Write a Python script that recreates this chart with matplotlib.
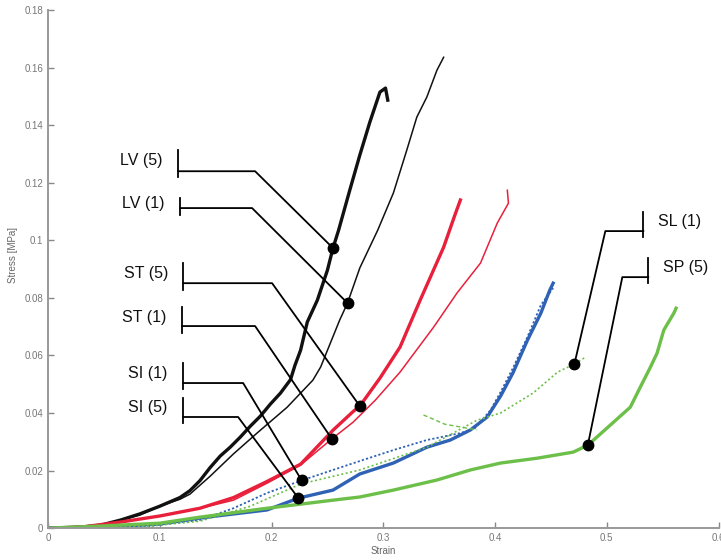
import numpy as np
import matplotlib.pyplot as plt

plt.rcParams['font.family'] = ['Liberation Sans', 'DejaVu Sans']

# stress-strain curves (strain, stress in MPa)
lv5_x = [0, 0.029, 0.047, 0.065, 0.082, 0.100, 0.118, 0.127, 0.136, 0.145, 0.154, 0.163,
         0.172, 0.181, 0.190, 0.199, 0.208, 0.217, 0.221, 0.226, 0.232, 0.241, 0.250,
         0.255, 0.260, 0.270, 0.279, 0.288, 0.297, 0.302, 0.304]
lv5_y = [0, 0.0003, 0.0010, 0.0028, 0.0049, 0.0076, 0.0106, 0.0130, 0.0165, 0.0210, 0.0250,
         0.0281, 0.0316, 0.0354, 0.0389, 0.0431, 0.0469, 0.0516, 0.0566, 0.0618, 0.0716,
         0.0792, 0.0896, 0.0973, 0.1035, 0.1174, 0.1296, 0.1411, 0.1515, 0.1529, 0.1487]

lv1_x = [0, 0.047, 0.082, 0.100, 0.118, 0.127, 0.145, 0.166, 0.187, 0.214, 0.237, 0.244,
         0.261, 0.268, 0.279, 0.295, 0.309, 0.321, 0.330, 0.339, 0.348, 0.354]
lv1_y = [0, 0.0010, 0.0045, 0.0076, 0.0100, 0.0118, 0.0180, 0.0258, 0.0330, 0.0420, 0.0514,
         0.0560, 0.0723, 0.0782, 0.0904, 0.1035, 0.1164, 0.1313, 0.1428, 0.1498, 0.1591, 0.1636]

st5_x = [0, 0.029, 0.065, 0.100, 0.136, 0.166, 0.196, 0.226, 0.255, 0.273, 0.279, 0.297,
         0.315, 0.333, 0.354, 0.364, 0.369]
st5_y = [0, 0.0003, 0.0021, 0.0042, 0.0069, 0.0106, 0.0162, 0.0222, 0.0340, 0.0405, 0.0424,
         0.0521, 0.0629, 0.0792, 0.0976, 0.1087, 0.1140]

st1_x = [0, 0.029, 0.065, 0.100, 0.136, 0.166, 0.196, 0.226, 0.241, 0.255, 0.273, 0.293,
         0.315, 0.345, 0.366, 0.387, 0.402, 0.412, 0.411]
st1_y = [0, 0.0003, 0.0021, 0.0042, 0.0069, 0.0097, 0.0156, 0.0219, 0.0268, 0.0313, 0.0368,
         0.0445, 0.0542, 0.0698, 0.0817, 0.0921, 0.1060, 0.1129, 0.1174]

si5_x = [0, 0.047, 0.100, 0.136, 0.196, 0.224, 0.255, 0.279, 0.309, 0.339, 0.360, 0.378,
         0.393, 0.405, 0.416, 0.429, 0.441, 0.449, 0.452]
si5_y = [0, 0.0003, 0.0014, 0.0035, 0.0063, 0.0104, 0.0132, 0.0188, 0.0226, 0.0281, 0.0306,
         0.0341, 0.0386, 0.0459, 0.0539, 0.0653, 0.0747, 0.0827, 0.0851]

si1_x = [0, 0.091, 0.136, 0.166, 0.196, 0.228, 0.255, 0.279, 0.309, 0.339, 0.369, 0.382,
         0.396, 0.405, 0.416, 0.429, 0.441, 0.452]
si1_y = [0, 0.0007, 0.0028, 0.0069, 0.0122, 0.0167, 0.0202, 0.0233, 0.0271, 0.0306, 0.0330,
         0.0347, 0.0410, 0.0473, 0.0556, 0.0664, 0.0775, 0.0834]

sl1_x = [0, 0.091, 0.136, 0.181, 0.226, 0.279, 0.339, 0.384, 0.405, 0.434, 0.456, 0.471, 0.481]
sl1_y = [0, 0.0007, 0.0024, 0.0076, 0.0153, 0.0202, 0.0281, 0.0375, 0.0400, 0.0469, 0.0542,
         0.0570, 0.0594]
sl1_tail_x = [0.336, 0.355, 0.384]
sl1_tail_y = [0.0393, 0.0361, 0.0341]

sp5_x = [0, 0.047, 0.100, 0.136, 0.196, 0.255, 0.279, 0.309, 0.348, 0.378, 0.405, 0.438,
         0.470, 0.483, 0.500, 0.521, 0.530, 0.539, 0.545, 0.551, 0.560, 0.562]
sp5_y = [0, 0.0007, 0.0017, 0.0038, 0.0069, 0.0097, 0.0108, 0.0132, 0.0167, 0.0202, 0.0226,
         0.0243, 0.0264, 0.0288, 0.0347, 0.0420, 0.0490, 0.0559, 0.0608, 0.0688, 0.0747, 0.0764]

# callouts: label, strain of the dot on its curve
labels = ['LV (5)', 'LV (1)', 'ST (5)', 'ST (1)', 'SI (1)', 'SI (5)', 'SL (1)', 'SP (5)']
dot_strain = [0.255, 0.268, 0.279, 0.254, 0.227, 0.224, 0.471, 0.483]

fig = plt.figure(figsize=(7.21, 5.6), dpi=100)
ax = fig.add_axes([0.0666, 0.057, 0.93, 0.925])

black, red, blue, green = '#111111', '#e8203c', '#2f62b4', '#6cbf48'

ax.plot(lv5_x, lv5_y, color=black, lw=2.4)
ax.plot(lv1_x, lv1_y, color=black, lw=1.1)
ax.plot(st5_x, st5_y, color=red, lw=2.4)
ax.plot(st1_x, st1_y, color=red, lw=1.1)
ax.plot(si5_x, si5_y, color=blue, lw=2.4)
ax.plot(si1_x, si1_y, color=blue, lw=1.3, ls=(0, (1.2, 1.2)))
ax.plot(sl1_x, sl1_y, color=green, lw=1.2, ls=(0, (1.2, 1.5)))
ax.plot(sl1_tail_x, sl1_tail_y, color=green, lw=1.0, ls=(0, (3, 2)))
ax.plot(sp5_x, sp5_y, color=green, lw=2.4)

curves = {
    'LV (5)': (lv5_x, lv5_y), 'LV (1)': (lv1_x, lv1_y),
    'ST (5)': (st5_x, st5_y), 'ST (1)': (st1_x, st1_y),
    'SI (1)': (si1_x, si1_y), 'SI (5)': (si5_x, si5_y),
    'SL (1)': (sl1_x, sl1_y), 'SP (5)': (sp5_x, sp5_y),
}

# bracket layout in data units: bar x, bar top, bar bottom, arm y, elbow x, text x, side
layout = {
    'LV (5)': (0.1164, 0.1313, 0.1220, 0.1240, 0.1853, 0.102, 'left'),
    'LV (1)': (0.1182, 0.1146, 0.1088, 0.1112, 0.1826, 0.104, 'left'),
    'ST (5)': (0.1209, 0.0921, 0.0827, 0.0851, 0.2005, 0.108, 'left'),
    'ST (1)': (0.1200, 0.0768, 0.0678, 0.0702, 0.1853, 0.106, 'left'),
    'SI (1)': (0.1209, 0.0573, 0.0483, 0.0504, 0.1746, 0.107, 'left'),
    'SI (5)': (0.1209, 0.0452, 0.0365, 0.0386, 0.1701, 0.107, 'left'),
    'SL (1)': (0.5327, 0.1098, 0.1011, 0.1032, 0.4987, 0.546, 'right'),
    'SP (5)': (0.5371, 0.0938, 0.0851, 0.0872, 0.5139, 0.550, 'right'),
}

for lab, xs in zip(labels, dot_strain):
    cx, cy = curves[lab]
    ys = np.interp(xs, cx, cy)
    bx, btop, bbot, ay, ex, tx, side = layout[lab]
    ax.plot([bx, bx], [btop, bbot], color='k', lw=1.3)
    ax.plot([bx, ex, xs], [ay, ay, ys], color='k', lw=1.3)
    ax.plot(xs, ys, 'o', color='k', ms=7.5, zorder=5)
    ty = (btop + bbot) / 2 + 0.001
    ha = 'right' if side == 'left' else 'left'
    ax.text(tx, ty, lab, ha=ha, va='center', fontsize=11.5, color='#111111')

ax.set_xlim(0, 0.6)
ax.set_ylim(0, 0.18)
ax.set_xticks(np.arange(0, 0.61, 0.1))
ax.set_yticks(np.arange(0, 0.181, 0.02))
ax.set_xticklabels(['0', '0.1', '0.2', '0.3', '0.4', '0.5', '0.6'])
ax.set_yticklabels(['0', '0.02', '0.04', '0.06', '0.08', '0.1', '0.12', '0.14', '0.16', '0.18'])
ax.tick_params(direction='in', length=4, width=1, color='#888888', labelcolor='#777777',
               labelsize=7)
for s in ['top', 'right']:
    ax.spines[s].set_visible(False)
for s in ['left', 'bottom']:
    ax.spines[s].set_color('#999999')
    ax.spines[s].set_linewidth(1.4)
ax.set_xlabel('Strain', fontsize=7, color='#666666', labelpad=2)
ax.set_ylabel('Stress [MPa]', fontsize=7, color='#666666')
ax.yaxis.set_label_coords(-0.045, 0.527)

fig.savefig('out.png', dpi=100)
